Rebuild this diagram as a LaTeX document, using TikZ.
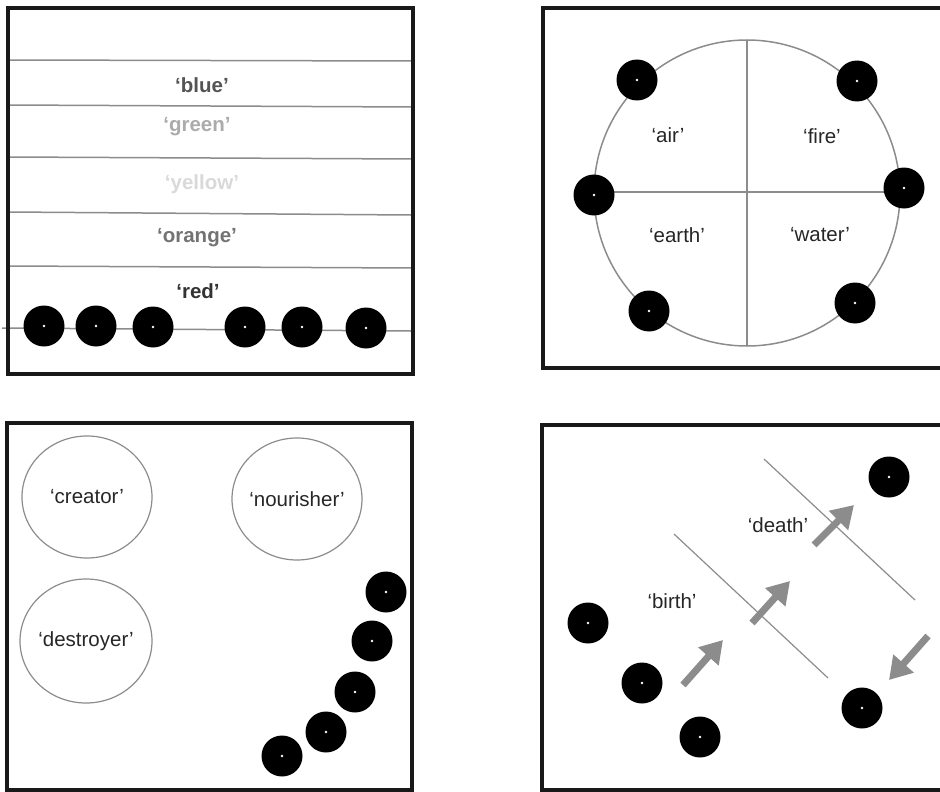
\documentclass[tikz,border=0pt]{standalone}
\usepackage{fontspec}
\setmainfont{Liberation Sans}
\usetikzlibrary{arrows.meta}
\definecolor{rulegray}{gray}{0.55}
\begin{document}
\begin{tikzpicture}
      [x=1pt,y=-1pt,%%%%%%%%%%%%%%%%%%%%%%%%%%%%%%
      frame/.style={draw=black!90,line width=3.2pt},
      rule/.style={draw=rulegray,line width=1.5pt},
      ball/.style={circle,fill=black,minimum size=41pt,inner sep=0pt,
        path picture={\fill[white] (path picture bounding box.center) circle (1.3pt);}},
      word/.style={font=\fontsize{20.5}{24}\selectfont,text=black!85},
      band/.style={font=\fontsize{20.5}{24}\selectfont\bfseries},
      push/.style={draw=rulegray,line width=7pt,-{Triangle[length=22pt,width=26pt]}},
      ]%%%%%%%%%%%%%%%%%%%%%%%%%%%%%%
      \useasboundingbox (0,0) rectangle (940,792);

      % colour bands
      \draw[rule] (8,60) -- (413,61);
      \draw[rule] (8,105) -- (413,107);
      \draw[rule] (8,157) -- (413,159);
      \draw[rule] (8,212) -- (411,215);
      \draw[rule] (8,266) -- (413,268);
      \draw[rule] (2,328) -- (411,331);
      \node[band,text=black!67] (blue) at (202,85) {`blue'};
      \node[band,text=black!33] (green) at (197,127) {`green'};
      \node[band,text=black!15] (yellow) at (202,184) {`yellow'};
      \node[band,text=black!55] (orange) at (197,238) {`orange'};
      \node[band,text=black!80] (red) at (198,291) {`red'};
      \node[ball] (r1) at (44,326) {};
      \node[ball] (r2) at (96,326) {};
      \node[ball] (r3) at (153,327) {};
      \node[ball] (r4) at (245,327) {};
      \node[ball] (r5) at (302,327) {};
      \node[ball] (r6) at (366,328) {};
      \draw[frame] (8,8) rectangle (413,374);

      % elements
      \draw[rule] (747,193) circle (153);
      \draw[rule] (747,41) -- (747,345);
      \draw[rule] (593,192) -- (901,192);
      \node[word] (air) at (668,135) {`air'};
      \node[word] (fire) at (822,136) {`fire'};
      \node[word] (earth) at (677,235) {`earth'};
      \node[word] (water) at (820,235) {`water'};
      \node[ball] (e1) at (637,80) {};
      \node[ball] (e2) at (857,81) {};
      \node[ball] (e3) at (594,195) {};
      \node[ball] (e4) at (904,188) {};
      \node[ball] (e5) at (649,311) {};
      \node[ball] (e6) at (855,303) {};
      \draw[frame] (543,8) rectangle (945,368);

      % gods
      \draw[rule,line width=1.2pt] (87,497) ellipse (65 and 61);
      \draw[rule,line width=1.2pt] (297,499) ellipse (65 and 61);
      \draw[rule,line width=1.2pt] (86,641) ellipse (66 and 62);
      \node[word] (creator) at (87,497) {`creator'};
      \node[word] (nourisher) at (297,499) {`nourisher'};
      \node[word] (destroyer) at (86,641) {`destroyer'};
      \node[ball] (g1) at (386,592) {};
      \node[ball] (g2) at (372,641) {};
      \node[ball] (g3) at (355,692) {};
      \node[ball] (g4) at (326,732) {};
      \node[ball] (g5) at (282,756) {};
      \draw[frame] (7,423) rectangle (412,790);

      % life
      \draw[rule,line width=1.2pt] (674,534) -- (828,678);
      \draw[rule,line width=1.2pt] (764,459) -- (915,600);
      \node[word] (birth) at (672,601) {`birth'};
      \node[word] (death) at (778,525) {`death'};
      \coordinate (a1) at (683,685); \coordinate (b1) at (723,640);
      \coordinate (a2) at (752,623); \coordinate (b2) at (790,581);
      \coordinate (a3) at (814,545); \coordinate (b3) at (854,505);
      \coordinate (a4) at (928,636); \coordinate (b4) at (889,680);
      \draw[push] (a1) -- (b1);
      \draw[push] (a2) -- (b2);
      \draw[push] (a3) -- (b3);
      \draw[push] (a4) -- (b4);
      \node[ball] (l1) at (889,477) {};
      \node[ball] (l2) at (588,623) {};
      \node[ball] (l3) at (642,683) {};
      \node[ball] (l4) at (700,737) {};
      \node[ball] (l5) at (862,708) {};
      \draw[frame] (542,425) rectangle (945,790);
    \end{tikzpicture}
\end{document}
